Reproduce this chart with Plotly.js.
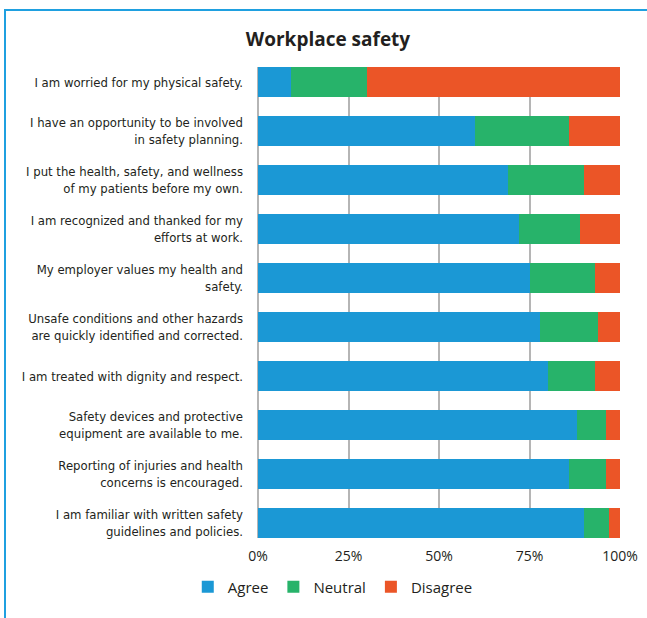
<!DOCTYPE html>
<html>
<head>
<meta charset="utf-8">
<script src="https://cdn.plot.ly/plotly-3.0.1.min.js"></script>
<style>
html,body{margin:0;padding:0;background:#fff;}
#chart{position:absolute;left:0;top:0;width:647px;height:618px;}
#frame{position:absolute;left:4px;top:9px;width:700px;height:700px;border-top:2px solid #1fa0e0;border-left:2px solid #1fa0e0;pointer-events:none;}
</style>
</head>
<body>
<div id="chart"></div>
<div id="frame"></div>
<script>
const categories = [
  "I am worried for my physical safety.",
  "I have an opportunity to be involved<br>in safety planning.",
  "I put the health, safety, and wellness<br>of my patients before my own.",
  "I am recognized and thanked for my<br>efforts at work.",
  "My employer values my health and<br>safety.",
  "Unsafe conditions and other hazards<br>are quickly identified and corrected.",
  "I am treated with dignity and respect.",
  "Safety devices and protective<br>equipment are available to me.",
  "Reporting of injuries and health<br>concerns is encouraged.",
  "I am familiar with written safety<br>guidelines and policies."
];
const agree    = [9, 60, 69, 72, 75, 78, 80, 88, 86, 90];
const neutral  = [21, 26, 21, 17, 18, 16, 13, 8, 10, 7];
const disagree = [70, 14, 10, 11, 7, 6, 7, 4, 4, 3];
const seriesNames = ["Agree", "Neutral", "Disagree"];
const colors = ["#1b98d5", "#27b36a", "#eb5527"];
const tickVals = [0, 25, 50, 75, 100];
const tickText = ["0%", "25%", "50%", "75%", "100%"];

const narrow = "'DejaVu Sans Condensed', 'Liberation Sans Narrow', sans-serif";
const regular = "'Open Sans', 'Noto Sans', sans-serif";

const data = [agree, neutral, disagree].map((vals, i) => ({
  type: "bar",
  orientation: "h",
  name: seriesNames[i],
  x: vals,
  y: categories,
  marker: {color: colors[i], line: {width: 0}},
  hoverinfo: "x+name"
}));

const layout = {
  width: 647,
  height: 618,
  barmode: "stack",
  bargap: 0.388,
  paper_bgcolor: "#fff",
  plot_bgcolor: "#fff",
  margin: {l: 258, r: 27, t: 67, b: 80, pad: 0},
  title: {
    text: "<b>Workplace safety</b>",
    font: {family: regular, size: 19, color: "#231f20"},
    x: 0.507, xref: "container", xanchor: "center",
    y: 0.937, yref: "container", yanchor: "middle"
  },
  xaxis: {
    range: [0, 100],
    tickvals: tickVals,
    ticktext: tickText,
    showgrid: true,
    gridcolor: "#b5b5b5",
    gridwidth: 2,
    zeroline: true,
    zerolinecolor: "#b5b5b5",
    zerolinewidth: 2,
    showline: false,
    ticks: "",
    ticklabelstandoff: 8,
    tickfont: {family: regular, size: 14, color: "#231f20"},
    fixedrange: true
  },
  yaxis: {
    type: "category",
    range: [9.306, -0.306],
    autorange: false,
    showgrid: false,
    zeroline: false,
    showline: false,
    ticks: "",
    ticklabelstandoff: 14,
    tickfont: {family: narrow, size: 13, color: "#231f20"},
    fixedrange: true
  },
  showlegend: true,
  legend: {
    orientation: "h",
    x: -0.194, xanchor: "left",
    y: -0.069, yanchor: "top",
    font: {family: regular, size: 15, color: "#231f20"},
    traceorder: "normal",
    itemclick: false
  }
};

Plotly.newPlot("chart", data, layout, {displayModeBar: false, staticPlot: true});
</script>
</body>
</html>
